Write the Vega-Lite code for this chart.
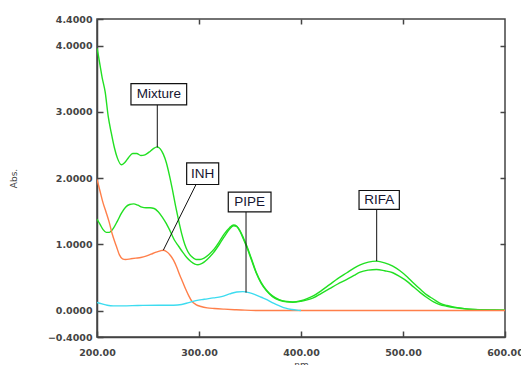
{
  "$schema": "https://vega.github.io/schema/vega-lite/v6.json",
  "width": 408,
  "height": 318,
  "autosize": {"type": "none"},
  "padding": {"left": 97, "top": 19, "right": 16, "bottom": 28},
  "background": "white",
  "config": {
    "view": {"stroke": "#444", "strokeWidth": 1.5},
    "axis": {
      "grid": false,
      "labelFlush": false,
      "labelOverlap": false,
      "domainColor": "#444",
      "domainWidth": 1.5,
      "tickColor": "#444",
      "tickWidth": 1.5,
      "labelFont": "DejaVu Sans",
      "labelFontSize": 9.5,
      "labelFontWeight": "bold",
      "labelColor": "#444",
      "titleFont": "DejaVu Sans",
      "titleFontSize": 9,
      "titleFontWeight": "normal",
      "titleColor": "#444"
    }
  },
  "datasets": {
    "spectra": [
      {"wl": 200, "abs": 3.96, "series": "Mixture"},
      {"wl": 201, "abs": 3.88, "series": "Mixture"},
      {"wl": 203, "abs": 3.70, "series": "Mixture"},
      {"wl": 205, "abs": 3.52, "series": "Mixture"},
      {"wl": 208, "abs": 3.30, "series": "Mixture"},
      {"wl": 211, "abs": 2.93, "series": "Mixture"},
      {"wl": 214, "abs": 2.68, "series": "Mixture"},
      {"wl": 217, "abs": 2.46, "series": "Mixture"},
      {"wl": 220, "abs": 2.30, "series": "Mixture"},
      {"wl": 224, "abs": 2.20, "series": "Mixture"},
      {"wl": 227, "abs": 2.23, "series": "Mixture"},
      {"wl": 231, "abs": 2.31, "series": "Mixture"},
      {"wl": 235, "abs": 2.37, "series": "Mixture"},
      {"wl": 239, "abs": 2.37, "series": "Mixture"},
      {"wl": 243, "abs": 2.34, "series": "Mixture"},
      {"wl": 247, "abs": 2.35, "series": "Mixture"},
      {"wl": 251, "abs": 2.39, "series": "Mixture"},
      {"wl": 255, "abs": 2.44, "series": "Mixture"},
      {"wl": 259, "abs": 2.47, "series": "Mixture"},
      {"wl": 262, "abs": 2.44, "series": "Mixture"},
      {"wl": 265, "abs": 2.36, "series": "Mixture"},
      {"wl": 268, "abs": 2.23, "series": "Mixture"},
      {"wl": 271, "abs": 2.04, "series": "Mixture"},
      {"wl": 274, "abs": 1.82, "series": "Mixture"},
      {"wl": 277, "abs": 1.58, "series": "Mixture"},
      {"wl": 280, "abs": 1.36, "series": "Mixture"},
      {"wl": 283, "abs": 1.16, "series": "Mixture"},
      {"wl": 286, "abs": 1.00, "series": "Mixture"},
      {"wl": 289, "abs": 0.89, "series": "Mixture"},
      {"wl": 293, "abs": 0.81, "series": "Mixture"},
      {"wl": 297, "abs": 0.77, "series": "Mixture"},
      {"wl": 301, "abs": 0.77, "series": "Mixture"},
      {"wl": 305, "abs": 0.79, "series": "Mixture"},
      {"wl": 310, "abs": 0.85, "series": "Mixture"},
      {"wl": 315, "abs": 0.93, "series": "Mixture"},
      {"wl": 320, "abs": 1.04, "series": "Mixture"},
      {"wl": 325, "abs": 1.16, "series": "Mixture"},
      {"wl": 330, "abs": 1.25, "series": "Mixture"},
      {"wl": 334, "abs": 1.29, "series": "Mixture"},
      {"wl": 337, "abs": 1.27, "series": "Mixture"},
      {"wl": 340, "abs": 1.21, "series": "Mixture"},
      {"wl": 344, "abs": 1.08, "series": "Mixture"},
      {"wl": 347, "abs": 0.97, "series": "Mixture"},
      {"wl": 351, "abs": 0.80, "series": "Mixture"},
      {"wl": 356, "abs": 0.58, "series": "Mixture"},
      {"wl": 361, "abs": 0.42, "series": "Mixture"},
      {"wl": 366, "abs": 0.31, "series": "Mixture"},
      {"wl": 372, "abs": 0.22, "series": "Mixture"},
      {"wl": 379, "abs": 0.16, "series": "Mixture"},
      {"wl": 386, "abs": 0.135, "series": "Mixture"},
      {"wl": 392, "abs": 0.13, "series": "Mixture"},
      {"wl": 400, "abs": 0.15, "series": "Mixture"},
      {"wl": 406, "abs": 0.18, "series": "Mixture"},
      {"wl": 412, "abs": 0.22, "series": "Mixture"},
      {"wl": 420, "abs": 0.30, "series": "Mixture"},
      {"wl": 428, "abs": 0.39, "series": "Mixture"},
      {"wl": 436, "abs": 0.48, "series": "Mixture"},
      {"wl": 445, "abs": 0.57, "series": "Mixture"},
      {"wl": 452, "abs": 0.64, "series": "Mixture"},
      {"wl": 458, "abs": 0.69, "series": "Mixture"},
      {"wl": 466, "abs": 0.73, "series": "Mixture"},
      {"wl": 474, "abs": 0.745, "series": "Mixture"},
      {"wl": 482, "abs": 0.72, "series": "Mixture"},
      {"wl": 490, "abs": 0.67, "series": "Mixture"},
      {"wl": 497, "abs": 0.60, "series": "Mixture"},
      {"wl": 504, "abs": 0.51, "series": "Mixture"},
      {"wl": 510, "abs": 0.42, "series": "Mixture"},
      {"wl": 517, "abs": 0.32, "series": "Mixture"},
      {"wl": 523, "abs": 0.24, "series": "Mixture"},
      {"wl": 530, "abs": 0.17, "series": "Mixture"},
      {"wl": 536, "abs": 0.11, "series": "Mixture"},
      {"wl": 543, "abs": 0.075, "series": "Mixture"},
      {"wl": 550, "abs": 0.05, "series": "Mixture"},
      {"wl": 562, "abs": 0.025, "series": "Mixture"},
      {"wl": 575, "abs": 0.012, "series": "Mixture"},
      {"wl": 590, "abs": 0.008, "series": "Mixture"},
      {"wl": 600, "abs": 0.006, "series": "Mixture"},

      {"wl": 200, "abs": 1.38, "series": "RIFA"},
      {"wl": 203, "abs": 1.30, "series": "RIFA"},
      {"wl": 206, "abs": 1.22, "series": "RIFA"},
      {"wl": 209, "abs": 1.18, "series": "RIFA"},
      {"wl": 212, "abs": 1.18, "series": "RIFA"},
      {"wl": 216, "abs": 1.24, "series": "RIFA"},
      {"wl": 220, "abs": 1.35, "series": "RIFA"},
      {"wl": 224, "abs": 1.47, "series": "RIFA"},
      {"wl": 228, "abs": 1.56, "series": "RIFA"},
      {"wl": 232, "abs": 1.60, "series": "RIFA"},
      {"wl": 236, "abs": 1.61, "series": "RIFA"},
      {"wl": 240, "abs": 1.59, "series": "RIFA"},
      {"wl": 244, "abs": 1.56, "series": "RIFA"},
      {"wl": 248, "abs": 1.55, "series": "RIFA"},
      {"wl": 252, "abs": 1.55, "series": "RIFA"},
      {"wl": 256, "abs": 1.54, "series": "RIFA"},
      {"wl": 260, "abs": 1.49, "series": "RIFA"},
      {"wl": 264, "abs": 1.41, "series": "RIFA"},
      {"wl": 268, "abs": 1.31, "series": "RIFA"},
      {"wl": 272, "abs": 1.19, "series": "RIFA"},
      {"wl": 276, "abs": 1.06, "series": "RIFA"},
      {"wl": 280, "abs": 0.97, "series": "RIFA"},
      {"wl": 284, "abs": 0.88, "series": "RIFA"},
      {"wl": 288, "abs": 0.80, "series": "RIFA"},
      {"wl": 292, "abs": 0.74, "series": "RIFA"},
      {"wl": 296, "abs": 0.70, "series": "RIFA"},
      {"wl": 299, "abs": 0.69, "series": "RIFA"},
      {"wl": 303, "abs": 0.71, "series": "RIFA"},
      {"wl": 308, "abs": 0.77, "series": "RIFA"},
      {"wl": 314, "abs": 0.87, "series": "RIFA"},
      {"wl": 320, "abs": 1.00, "series": "RIFA"},
      {"wl": 325, "abs": 1.12, "series": "RIFA"},
      {"wl": 330, "abs": 1.23, "series": "RIFA"},
      {"wl": 334, "abs": 1.28, "series": "RIFA"},
      {"wl": 337, "abs": 1.27, "series": "RIFA"},
      {"wl": 340, "abs": 1.20, "series": "RIFA"},
      {"wl": 344, "abs": 1.06, "series": "RIFA"},
      {"wl": 347, "abs": 0.95, "series": "RIFA"},
      {"wl": 351, "abs": 0.78, "series": "RIFA"},
      {"wl": 356, "abs": 0.57, "series": "RIFA"},
      {"wl": 361, "abs": 0.41, "series": "RIFA"},
      {"wl": 366, "abs": 0.30, "series": "RIFA"},
      {"wl": 372, "abs": 0.21, "series": "RIFA"},
      {"wl": 379, "abs": 0.155, "series": "RIFA"},
      {"wl": 386, "abs": 0.13, "series": "RIFA"},
      {"wl": 392, "abs": 0.125, "series": "RIFA"},
      {"wl": 400, "abs": 0.14, "series": "RIFA"},
      {"wl": 406, "abs": 0.16, "series": "RIFA"},
      {"wl": 412, "abs": 0.19, "series": "RIFA"},
      {"wl": 420, "abs": 0.26, "series": "RIFA"},
      {"wl": 428, "abs": 0.33, "series": "RIFA"},
      {"wl": 436, "abs": 0.40, "series": "RIFA"},
      {"wl": 445, "abs": 0.47, "series": "RIFA"},
      {"wl": 452, "abs": 0.53, "series": "RIFA"},
      {"wl": 458, "abs": 0.58, "series": "RIFA"},
      {"wl": 466, "abs": 0.61, "series": "RIFA"},
      {"wl": 474, "abs": 0.62, "series": "RIFA"},
      {"wl": 482, "abs": 0.60, "series": "RIFA"},
      {"wl": 490, "abs": 0.57, "series": "RIFA"},
      {"wl": 497, "abs": 0.51, "series": "RIFA"},
      {"wl": 504, "abs": 0.44, "series": "RIFA"},
      {"wl": 510, "abs": 0.36, "series": "RIFA"},
      {"wl": 517, "abs": 0.27, "series": "RIFA"},
      {"wl": 523, "abs": 0.20, "series": "RIFA"},
      {"wl": 530, "abs": 0.13, "series": "RIFA"},
      {"wl": 536, "abs": 0.09, "series": "RIFA"},
      {"wl": 543, "abs": 0.065, "series": "RIFA"},
      {"wl": 550, "abs": 0.045, "series": "RIFA"},
      {"wl": 562, "abs": 0.022, "series": "RIFA"},
      {"wl": 575, "abs": 0.012, "series": "RIFA"},
      {"wl": 590, "abs": 0.008, "series": "RIFA"},
      {"wl": 600, "abs": 0.006, "series": "RIFA"},

      {"wl": 200, "abs": 1.98, "series": "INH"},
      {"wl": 203, "abs": 1.80, "series": "INH"},
      {"wl": 206, "abs": 1.62, "series": "INH"},
      {"wl": 209, "abs": 1.48, "series": "INH"},
      {"wl": 212, "abs": 1.33, "series": "INH"},
      {"wl": 215, "abs": 1.15, "series": "INH"},
      {"wl": 219, "abs": 0.97, "series": "INH"},
      {"wl": 222, "abs": 0.84, "series": "INH"},
      {"wl": 225, "abs": 0.78, "series": "INH"},
      {"wl": 228, "abs": 0.77, "series": "INH"},
      {"wl": 233, "abs": 0.78, "series": "INH"},
      {"wl": 238, "abs": 0.79, "series": "INH"},
      {"wl": 243, "abs": 0.80, "series": "INH"},
      {"wl": 248, "abs": 0.82, "series": "INH"},
      {"wl": 253, "abs": 0.85, "series": "INH"},
      {"wl": 258, "abs": 0.88, "series": "INH"},
      {"wl": 262, "abs": 0.90, "series": "INH"},
      {"wl": 265, "abs": 0.91, "series": "INH"},
      {"wl": 268, "abs": 0.89, "series": "INH"},
      {"wl": 272, "abs": 0.83, "series": "INH"},
      {"wl": 275, "abs": 0.76, "series": "INH"},
      {"wl": 278, "abs": 0.66, "series": "INH"},
      {"wl": 281, "abs": 0.54, "series": "INH"},
      {"wl": 284, "abs": 0.43, "series": "INH"},
      {"wl": 287, "abs": 0.32, "series": "INH"},
      {"wl": 290, "abs": 0.22, "series": "INH"},
      {"wl": 293, "abs": 0.14, "series": "INH"},
      {"wl": 297, "abs": 0.09, "series": "INH"},
      {"wl": 302, "abs": 0.06, "series": "INH"},
      {"wl": 308, "abs": 0.04, "series": "INH"},
      {"wl": 315, "abs": 0.03, "series": "INH"},
      {"wl": 325, "abs": 0.02, "series": "INH"},
      {"wl": 335, "abs": 0.012, "series": "INH"},
      {"wl": 345, "abs": 0.005, "series": "INH"},
      {"wl": 360, "abs": 0.0, "series": "INH"},
      {"wl": 400, "abs": 0.0, "series": "INH"},
      {"wl": 500, "abs": 0.0, "series": "INH"},
      {"wl": 600, "abs": 0.0, "series": "INH"},

      {"wl": 200, "abs": 0.12, "series": "PIPE"},
      {"wl": 205, "abs": 0.10, "series": "PIPE"},
      {"wl": 210, "abs": 0.08, "series": "PIPE"},
      {"wl": 216, "abs": 0.07, "series": "PIPE"},
      {"wl": 225, "abs": 0.07, "series": "PIPE"},
      {"wl": 240, "abs": 0.075, "series": "PIPE"},
      {"wl": 260, "abs": 0.08, "series": "PIPE"},
      {"wl": 275, "abs": 0.08, "series": "PIPE"},
      {"wl": 283, "abs": 0.09, "series": "PIPE"},
      {"wl": 290, "abs": 0.12, "series": "PIPE"},
      {"wl": 297, "abs": 0.15, "series": "PIPE"},
      {"wl": 305, "abs": 0.17, "series": "PIPE"},
      {"wl": 314, "abs": 0.19, "series": "PIPE"},
      {"wl": 322, "abs": 0.21, "series": "PIPE"},
      {"wl": 330, "abs": 0.25, "series": "PIPE"},
      {"wl": 337, "abs": 0.28, "series": "PIPE"},
      {"wl": 343, "abs": 0.285, "series": "PIPE"},
      {"wl": 349, "abs": 0.27, "series": "PIPE"},
      {"wl": 355, "abs": 0.24, "series": "PIPE"},
      {"wl": 361, "abs": 0.20, "series": "PIPE"},
      {"wl": 367, "abs": 0.16, "series": "PIPE"},
      {"wl": 373, "abs": 0.11, "series": "PIPE"},
      {"wl": 379, "abs": 0.07, "series": "PIPE"},
      {"wl": 385, "abs": 0.035, "series": "PIPE"},
      {"wl": 391, "abs": 0.015, "series": "PIPE"},
      {"wl": 396, "abs": 0.005, "series": "PIPE"},
      {"wl": 400, "abs": 0.0, "series": "PIPE"}
    ],
    "labels": [
      {"name": "Mixture", "bx1": 233.3, "bx2": 287.9, "by1": 3.105, "by2": 3.426, "tx": 260.6, "ty": 3.265, "lx1": 259.1, "ly1": 3.105, "lx2": 259.1, "ly2": 2.46},
      {"name": "INH", "bx1": 287.9, "bx2": 319.3, "by1": 1.902, "by2": 2.229, "tx": 303.6, "ty": 2.065, "lx1": 297.1, "ly1": 1.902, "lx2": 265, "ly2": 0.91},
      {"name": "PIPE", "bx1": 328.7, "bx2": 370.6, "by1": 1.49, "by2": 1.786, "tx": 349.6, "ty": 1.638, "lx1": 346.1, "ly1": 1.49, "lx2": 346.1, "ly2": 0.27},
      {"name": "RIFA", "bx1": 456.9, "bx2": 496.4, "by1": 1.525, "by2": 1.811, "tx": 476.6, "ty": 1.668, "lx1": 474.2, "ly1": 1.525, "lx2": 474.2, "ly2": 0.745}
    ]
  },
  "resolve": {"axis": {"x": "independent", "y": "independent"}},
  "layer": [
    {
      "data": {"name": "spectra"},
      "mark": {"type": "line", "strokeWidth": 1.4, "interpolate": "monotone", "clip": true},
      "encoding": {
        "x": {
          "field": "wl", "type": "quantitative",
          "scale": {"domain": [200, 600], "nice": false, "zero": false},
          "axis": {"orient": "bottom", "values": [200, 300, 400, 500, 600], "format": ".2f", "tickSize": -6, "labelPadding": 16, "title": "nm", "titleBaseline": "top", "titleY": 23}
        },
        "y": {
          "field": "abs", "type": "quantitative",
          "scale": {"domain": [-0.4, 4.4], "nice": false, "zero": false},
          "axis": {"orient": "left", "values": [-0.4, 0, 1, 2, 3, 4, 4.4], "format": ".4f", "tickSize": -6, "labelPadding": 11, "title": "Abs.", "titleX": -79, "titleY": 159}
        },
        "color": {
          "field": "series", "type": "nominal",
          "scale": {"domain": ["INH", "PIPE", "RIFA", "Mixture"], "range": ["#ff7f4a", "#3ddcf0", "#22e022", "#22e022"]},
          "legend": null
        },
        "detail": {"field": "series"}
      }
    },
    {
      "data": {"name": "labels"},
      "mark": {"type": "rule", "color": "#111", "strokeWidth": 1},
      "encoding": {
        "x": {"field": "lx1", "type": "quantitative", "axis": {"orient": "top", "values": [300, 400, 500], "labels": false, "tickSize": -5, "title": null, "domain": false}},
        "y": {"field": "ly1", "type": "quantitative", "axis": {"orient": "right", "values": [1, 2, 3, 4], "labels": false, "tickSize": -5, "title": null, "domain": false}},
        "x2": {"field": "lx2"},
        "y2": {"field": "ly2"}
      }
    },
    {
      "data": {"name": "labels"},
      "mark": {"type": "rect", "fill": "white", "stroke": "#111", "strokeWidth": 1.2},
      "encoding": {
        "x": {"field": "bx1", "type": "quantitative", "axis": null},
        "x2": {"field": "bx2"},
        "y": {"field": "by1", "type": "quantitative", "axis": null},
        "y2": {"field": "by2"}
      }
    },
    {
      "data": {"name": "labels"},
      "mark": {"type": "text", "font": "Liberation Sans", "fontSize": 13.5, "color": "#151530", "align": "center", "baseline": "middle"},
      "encoding": {
        "x": {"field": "tx", "type": "quantitative", "axis": null},
        "y": {"field": "ty", "type": "quantitative", "axis": null},
        "text": {"field": "name"}
      }
    }
  ]
}
